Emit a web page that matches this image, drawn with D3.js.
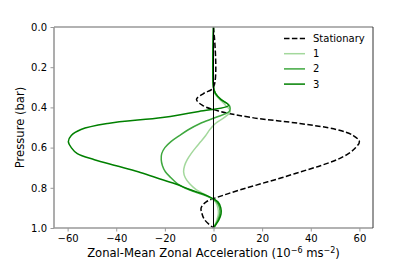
<!DOCTYPE html>
<html><head><meta charset="utf-8">
<script src="https://cdn.jsdelivr.net/npm/d3@7"></script>
<style>body{margin:0;background:#fff}text{font-family:"DejaVu Sans",sans-serif}</style>
</head><body><svg id="c" width="415" height="267"></svg>
<script>
const pressure = [0, 0.30, 0.33, 0.36, 0.39, 0.42, 0.45, 0.48, 0.51, 0.54, 0.57, 0.60, 0.63, 0.66, 0.69, 0.72, 0.75, 0.78, 0.81, 0.84, 0.87, 0.90, 0.93, 0.96, 1.0];
const stationary = [0, 0, -4, -7, -4.5, 2.8, 15.5, 35.5, 50.5, 57.5, 60, 58.5, 55.5, 50.8, 44, 36, 28, 19.5, 11, 3.3, -3, -5.1, -4.7, -3.6, 0];
const wave1 = [0, 0, 0.5, 2.5, 5, 6.9, 4.5, 0.8, -1.5, -3.2, -5.2, -7.3, -9.2, -10.8, -11.9, -12.3, -11.6, -9.8, -7, -2.5, 0.8, 1.8, 2, 1.4, 0];
const wave2 = [0, 0, 0.8, 3, 6.5, 6.5, 0.8, -5.5, -10.2, -14, -17.5, -20, -21.3, -21.5, -21, -19.8, -17.5, -14.8, -10, -3, 1.3, 2.5, 2.6, 1.8, 0];
const wave3 = [0, 0, 0.8, 3, 6.2, -6, -21, -43.5, -54.5, -58.5, -59.7, -58.5, -56, -49, -40, -31, -23.5, -15.8, -9.5, -2.5, 1.8, 3, 3.1, 2.2, 0];
const xTicks = [-60, -40, -20, 0, 20, 40, 60];
const yTicks = [0.0, 0.2, 0.4, 0.6, 0.8, 1.0];
const seriesNames = ["Stationary", "1", "2", "3"];

const svg = d3.select("#c");
const L = 54, R = 373, T = 27, B = 228;
const x = d3.scaleLinear().domain([-65.6, 65.6]).range([L, R]);
const y = d3.scaleLinear().domain([0, 1]).range([T, B]);

const series = [
  {name: seriesNames[0], vals: stationary, color: "#000", dash: "5.5,2.4"},
  {name: seriesNames[1], vals: wave1, color: "#a3d89c", dash: null},
  {name: seriesNames[2], vals: wave2, color: "#3fa83f", dash: null},
  {name: seriesNames[3], vals: wave3, color: "#008000", dash: null}
];

const line = d3.line().x(d => x(d[0])).y(d => y(d[1])).curve(d3.curveCatmullRom.alpha(0.5));
series.forEach(s => {
  svg.append("path").datum(s.vals.map((v, i) => [v, pressure[i]]))
    .attr("d", line).attr("fill", "none").attr("stroke", s.color)
    .attr("stroke-width", 1.5).attr("stroke-dasharray", s.dash);
});
// vertical zero line
svg.append("line").attr("x1", x(0)).attr("x2", x(0)).attr("y1", T).attr("y2", B)
  .attr("stroke", "#000").attr("stroke-width", 1);

// axes
const xAxis = svg.append("g").attr("transform", `translate(0,${B})`)
  .call(d3.axisBottom(x).tickValues(xTicks).tickSize(3.5).tickPadding(3.5).tickFormat(d => d < 0 ? "\u2212" + Math.abs(d) : d));
const yAxis = svg.append("g").attr("transform", `translate(${L},0)`)
  .call(d3.axisLeft(y).tickValues(yTicks).tickSize(3.5).tickPadding(3.5).tickFormat(d3.format(".1f")));
[xAxis, yAxis].forEach(g => {
  g.select(".domain").remove();
  g.selectAll(".tick line").attr("stroke", "#999").attr("stroke-width", 1);
  g.selectAll(".tick text").attr("fill", "#000").style("font-size", "10px").style("font-family", "DejaVu Sans");
});
// spines
svg.append("line").attr("x1", L).attr("x2", L).attr("y1", T).attr("y2", B).attr("stroke", "#999").attr("stroke-width", 1.6);
svg.append("line").attr("x1", L).attr("x2", R).attr("y1", T).attr("y2", T).attr("stroke", "#999").attr("stroke-width", 1.6);
svg.append("line").attr("x1", L).attr("x2", R).attr("y1", B).attr("y2", B).attr("stroke", "#999").attr("stroke-width", 1.6);
svg.append("line").attr("x1", R).attr("x2", R).attr("y1", T).attr("y2", B).attr("stroke", "#333").attr("stroke-width", 1);

// labels
const xl = svg.append("text").attr("x", (L + R) / 2).attr("y", 257).attr("text-anchor", "middle").style("font-size", "11.6px");
xl.append("tspan").text("Zonal-Mean Zonal Acceleration (10");
xl.append("tspan").attr("dy", -4.5).style("font-size", "8px").text("\u22126");
xl.append("tspan").attr("dy", 4.5).text(" ms");
xl.append("tspan").attr("dy", -4.5).style("font-size", "8px").text("\u22122");
xl.append("tspan").attr("dy", 4.5).text(")");

svg.append("text").attr("transform", `translate(24,${(T + B) / 2}) rotate(-90)`)
  .attr("text-anchor", "middle").style("font-size", "11.6px").text("Pressure (bar)");

// legend
const lg = svg.append("g");
series.forEach((s, i) => {
  const yy = 38.5 + i * 15.2;
  lg.append("line").attr("x1", 284).attr("x2", 305).attr("y1", yy).attr("y2", yy)
    .attr("stroke", s.color).attr("stroke-width", 1.5).attr("stroke-dasharray", s.dash);
  lg.append("text").attr("x", 313).attr("y", yy + 3.5).style("font-size", "10px").text(s.name);
});
</script></body></html>
